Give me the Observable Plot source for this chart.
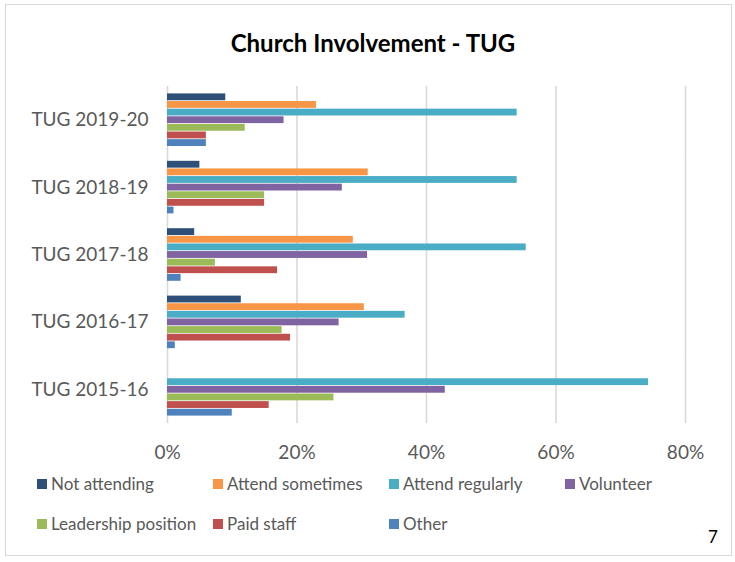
<!DOCTYPE html>
<html>
<head>
<meta charset="utf-8">
<script src="https://cdn.jsdelivr.net/npm/d3@7"></script>
<script src="https://cdn.jsdelivr.net/npm/@observablehq/plot@0.6"></script>
<style>
  body { margin: 0; background: #fff; font-family: Lato, "Open Sans", sans-serif; }
  #wrap { position: relative; width: 735px; height: 562px; overflow: hidden; background: #fff; }
  #frame { position: absolute; left: 5px; top: 4px; width: 727px; height: 552px; border: 1.5px solid #d9d9d9; box-sizing: border-box; }
  #title { position: absolute; left: 0; width: 746px; top: 27px; height: 32px; line-height: 32px; text-align: center; font-weight: bold; font-size: 24px; color: #000; }
  #chart { position: absolute; left: 0; top: 0; }
  .leg { position: absolute; height: 20px; line-height: 20px; font-size: 17px; color: #595959; white-space: nowrap; }
  .sw { position: absolute; left: 0; top: 5px; width: 10px; height: 10px; }
  .lt { position: absolute; left: 14px; top: 0; }
  #page { position: absolute; left: 708px; top: 526px; height: 22px; line-height: 22px; font-size: 17px; color: #000; }
</style>
</head>
<body>
<div id="wrap">
  <div id="frame"></div>
  <div id="title">Church Involvement - TUG</div>
  <div id="chart"></div>
  <div id="legend"></div>
  <div id="page">7</div>
</div>
<script>
// ---- Data (percent) ----
const years = ["TUG 2019-20", "TUG 2018-19", "TUG 2017-18", "TUG 2016-17", "TUG 2015-16"];
const series = ["Not attending", "Attend sometimes", "Attend regularly", "Volunteer", "Leadership position", "Paid staff", "Other"];
const colors = ["#2E5078", "#F79646", "#4BACC6", "#8064A2", "#9BBB59", "#C0504D", "#4F81BD"];

const notAttending     = [9,  5,  4.2, 11.4, 0];
const attendSometimes  = [23, 31, 28.7, 30.4, 0];
const attendRegularly  = [54, 54, 55.4, 36.7, 74.3];
const volunteer        = [18, 27, 30.9, 26.5, 42.9];
const leadership       = [12, 15, 7.4, 17.7, 25.7];
const paidStaff        = [6,  15, 17,  19,   15.7];
const other            = [6,  1,  2.1, 1.2,  10];
const xTicks = [0, 20, 40, 60, 80];

const seriesValues = [notAttending, attendSometimes, attendRegularly, volunteer, leadership, paidStaff, other];
const data = years.flatMap((yr, i) => series.map((s, j) => ({ year: yr, series: s, value: seriesValues[j][i] })));

const W = 735, H = 470, mT = 86, mB = 47, mL = 167, mR = 50;
const pIn = 0.208, pOut = 0.104;
// half the gap between facet bands, so gridlines run continuously through the gaps
const step = (H - mT - mB) / (years.length - pIn + 2 * pOut);
const halfGap = step * pIn / 2;

const plot = Plot.plot({
  width: W,
  height: H,
  marginTop: mT,
  marginBottom: mB,
  marginLeft: mL,
  marginRight: mR,
  style: { fontFamily: "Lato, sans-serif", fontSize: "19px", color: "#595959", background: "transparent" },
  x: { domain: [0, 80], ticks: xTicks, tickFormat: d => d + "%", tickSize: 0, tickPadding: 29, label: null },
  y: { domain: series, padding: 0, round: false, axis: null },
  fy: { domain: years, paddingInner: pIn, paddingOuter: pOut, round: false, axis: "left", tickSize: 0, tickPadding: 19, label: null },
  color: { domain: series, range: colors },
  marks: [
    Plot.ruleX(xTicks, { x: d => d, stroke: "#d9d9d9", strokeWidth: 1.6, insetTop: -halfGap, insetBottom: -halfGap }),
    Plot.barX(data, { x: "value", y: "series", fy: "year", fill: "series", insetTop: 0.4, insetBottom: 0.4 })
  ]
});
document.getElementById("chart").appendChild(plot);

// ---- Legend ----
const legend = document.getElementById("legend");
const colX = [37, 213, 389, 565];
const rowY = [474, 514];
series.forEach((s, i) => {
  const row = Math.floor(i / 4), col = i % 4;
  const item = document.createElement("div");
  item.className = "leg";
  item.style.left = colX[col] + "px";
  item.style.top = rowY[row] + "px";
  const sw = document.createElement("span");
  sw.className = "sw";
  sw.style.background = colors[i];
  const t = document.createElement("span");
  t.className = "lt";
  t.textContent = s;
  item.appendChild(sw);
  item.appendChild(t);
  legend.appendChild(item);
});
</script>
</body>
</html>
